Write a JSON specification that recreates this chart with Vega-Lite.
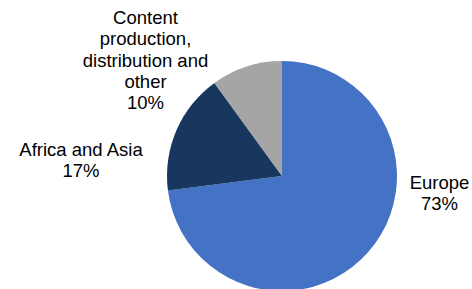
{
  "$schema": "https://vega.github.io/schema/vega-lite/v6.json",
  "autosize": {"type": "none"},
  "width": 380,
  "height": 226,
  "padding": {"left": 92, "top": 63, "right": 0, "bottom": 0},
  "background": "white",
  "config": {"view": {"stroke": null}, "text": {"font": "Liberation Sans", "fontSize": 18.5, "lineHeight": 21.3, "color": "#000000"}},
  "data": {"values": [
    {"category": "Europe", "value": 73, "label": "Europe\n73%"},
    {"category": "Africa and Asia", "value": 17, "label": "Africa and Asia\n17%"},
    {"category": "Content production, distribution and other", "value": 10, "label": "Content\nproduction,\ndistribution and\nother\n10%"}
  ]},
  "encoding": {
    "theta": {"field": "value", "type": "quantitative", "stack": true},
    "order": {"field": "value", "type": "quantitative", "sort": "descending"},
    "color": {
      "field": "category", "type": "nominal",
      "scale": {"domain": ["Europe", "Africa and Asia", "Content production, distribution and other"], "range": ["#4472C4", "#17375E", "#A5A5A5"]},
      "legend": null
    }
  },
  "layer": [
    {"mark": {"type": "arc", "outerRadius": 115}},
    {
      "mark": {"type": "text", "radius": 0, "dx": 157.5, "dy": 7, "align": "center", "baseline": "middle", "lineBreak": "\n"},
      "encoding": {
        "color": {"value": "#000000"},
        "text": {"condition": {"test": "datum.category === 'Europe'", "field": "label"}, "value": ""}
      }
    },
    {
      "mark": {"type": "text", "radius": 0, "dx": -201, "dy": -26, "align": "center", "baseline": "middle", "lineBreak": "\n"},
      "encoding": {
        "color": {"value": "#000000"},
        "text": {"condition": {"test": "datum.category === 'Africa and Asia'", "field": "label"}, "value": ""}
      }
    },
    {
      "mark": {"type": "text", "radius": 0, "dx": -136.5, "dy": -158, "align": "center", "baseline": "middle", "lineBreak": "\n"},
      "encoding": {
        "color": {"value": "#000000"},
        "text": {"condition": {"test": "datum.category === 'Content production, distribution and other'", "field": "label"}, "value": ""}
      }
    }
  ]
}
